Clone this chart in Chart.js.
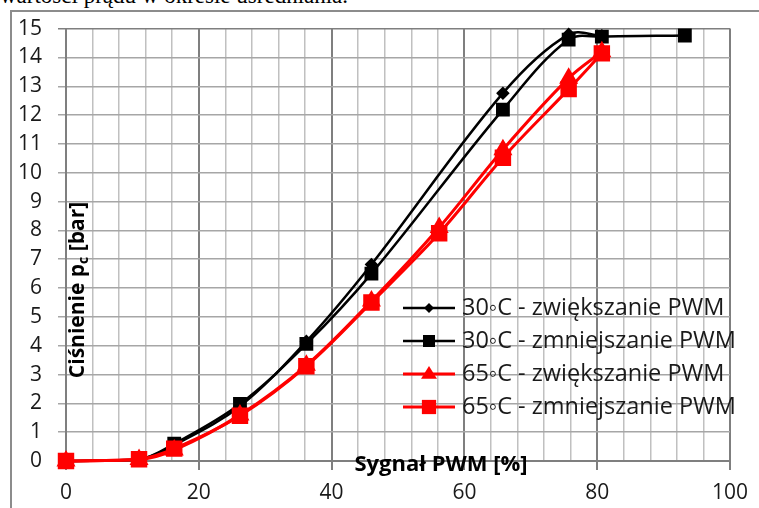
<!DOCTYPE html>
<html>
<head>
<meta charset="utf-8">
<script src="https://cdn.jsdelivr.net/npm/chart.js@4.4.0/dist/chart.umd.min.js"></script>
<style>
  html, body { margin: 0; padding: 0; background: #fff; }
  #wrap { position: relative; width: 759px; height: 508px; overflow: hidden; }
  #caption { position: absolute; left: 0; top: -17px; font: 23px "Liberation Serif", serif; color: #000; white-space: nowrap; }
  #pwmChart { position: absolute; left: 0; top: 0; }
</style>
</head>
<body>
<div id="wrap">
  <div id="caption">wartości prądu w okresie uśredniania.</div>
  <canvas id="pwmChart" width="759" height="508"></canvas>
</div>
<script>
// PWM signal [%] and pressure [bar]
const pwm30 = [0, 11, 16.3, 26.2, 36.2, 46, 65.8, 75.7, 80.7];
const up30 = [0, 0.05, 0.55, 1.9, 4.15, 6.82, 12.76, 14.8, 14.75];
const pwm30down = [0, 11, 16.3, 26.2, 36.2, 46, 65.8, 75.7, 80.7, 93.2];
const down30 = [0, 0.05, 0.6, 1.98, 4.06, 6.5, 12.19, 14.62, 14.72, 14.76];
const pwm65 = [0, 11, 16.3, 26.2, 36.2, 46, 56.2, 65.8, 75.7, 80.7];
const up65 = [0, 0.05, 0.38, 1.6, 3.32, 5.55, 8.1, 10.8, 13.28, 14.2];
const down65 = [0, 0.06, 0.43, 1.57, 3.29, 5.5, 7.9, 10.52, 12.9, 14.14];

const seriesNames = ['30◦C - zwiększanie PWM', '30◦C - zmniejszanie PWM', '65◦C - zwiększanie PWM', '65◦C - zmniejszanie PWM'];
const xTicks = [0, 20, 40, 60, 80, 100];
const xTitle = 'Sygnał PWM [%]';

const pts = (xs, ys) => xs.map((x, i) => ({ x: x, y: ys[i] }));

const tickFont = { family: '"Open Sans"', size: 21 };

const overlay = {
    id: 'overlay',
    beforeDraw(chart) {
        const ctx = chart.ctx;
        ctx.save();
        ctx.strokeStyle = '#8c8c8c';
        ctx.lineWidth = 2;
        ctx.beginPath();
        ctx.moveTo(11, 508);
        ctx.lineTo(11, 11);
        ctx.lineTo(759, 11);
        ctx.stroke();
        ctx.restore();
    },
    afterDraw(chart) {
        const ctx = chart.ctx;
        ctx.save();
        ctx.fillStyle = '#000';
        ctx.textBaseline = 'middle';
        // x title
        ctx.font = 'bold 22px "Open Sans"';
        ctx.textAlign = 'center';
        ctx.fillText(xTitle, 441, 465);
        // y title with subscript
        ctx.save();
        ctx.translate(78, 290);
        ctx.rotate(-Math.PI / 2);
        const a = 'Ciśnienie p', b = 'c', c = ' [bar]';
        ctx.font = 'bold 21px "Open Sans"';
        const wa = ctx.measureText(a).width, wc = ctx.measureText(c).width;
        ctx.font = 'bold 14px "Open Sans"';
        const wb = ctx.measureText(b).width;
        let x0 = -(wa + wb + wc) / 2;
        ctx.textAlign = 'left';
        ctx.font = 'bold 21px "Open Sans"';
        ctx.fillText(a, x0, 0);
        ctx.font = 'bold 14px "Open Sans"';
        ctx.fillText(b, x0 + wa, 6);
        ctx.font = 'bold 21px "Open Sans"';
        ctx.fillText(c, x0 + wa + wb, 0);
        ctx.restore();
        // legend
        const rows = [308, 341, 374, 407];
        chart.data.datasets.forEach((ds, i) => {
            const y = rows[i];
            ctx.strokeStyle = ds.borderColor;
            ctx.lineWidth = ds.borderWidth;
            ctx.beginPath();
            ctx.moveTo(403, y);
            ctx.lineTo(455, y);
            ctx.stroke();
            ctx.fillStyle = ds.backgroundColor;
            const r = ds.pointRadius, cx = 429;
            ctx.beginPath();
            if (ds.pointStyle === 'rectRot') {
                ctx.moveTo(cx, y - r); ctx.lineTo(cx + r, y); ctx.lineTo(cx, y + r); ctx.lineTo(cx - r, y);
            } else if (ds.pointStyle === 'triangle') {
                ctx.moveTo(cx, y - r); ctx.lineTo(cx + r, y + r * 0.6); ctx.lineTo(cx - r, y + r * 0.6);
            } else {
                ctx.rect(cx - r * 0.75, y - r * 0.75, r * 1.5, r * 1.5);
            }
            ctx.closePath();
            ctx.fill();
            ctx.fillStyle = '#1a1a1a';
            ctx.font = '23.5px "Open Sans"';
            ctx.textAlign = 'left';
            ctx.fillText(ds.label, 462, y);
        });
        ctx.restore();
    }
};

const ctx = document.getElementById('pwmChart').getContext('2d');
new Chart(ctx, {
    type: 'line',
    data: {
        datasets: [{
            label: seriesNames[0],
            data: pts(pwm30, up30),
            borderColor: '#000000',
            backgroundColor: '#000000',
            borderWidth: 2.5,
            pointStyle: 'rectRot',
            pointRadius: 5,
            tension: 0.35,
            clip: false,
            order: 4
        }, {
            label: seriesNames[1],
            data: pts(pwm30down, down30),
            borderColor: '#000000',
            backgroundColor: '#000000',
            borderWidth: 2.5,
            pointStyle: 'rect',
            pointRadius: 8,
            tension: 0.35,
            clip: false,
            order: 3
        }, {
            label: seriesNames[2],
            data: pts(pwm65, up65),
            borderColor: '#ff0000',
            backgroundColor: '#ff0000',
            borderWidth: 3,
            pointStyle: 'triangle',
            pointRadius: 8,
            tension: 0.35,
            clip: false,
            order: 2
        }, {
            label: seriesNames[3],
            data: pts(pwm65, down65),
            borderColor: '#ff0000',
            backgroundColor: '#ff0000',
            borderWidth: 3,
            pointStyle: 'rect',
            pointRadius: 9.5,
            tension: 0.35,
            clip: false,
            order: 1
        }]
    },
    options: {
        responsive: false,
        animation: false,
        layout: { padding: { top: 25, right: 29, left: 0, bottom: 0 } },
        plugins: {
            legend: { display: false },
            tooltip: { enabled: false }
        },
        scales: {
            x: {
                type: 'linear',
                min: 0,
                max: 100,
                afterFit: (s) => { s.height = 47; },
                ticks: {
                    stepSize: 4,
                    autoSkip: false,
                    maxRotation: 0,
                    padding: 10,
                    color: '#1a1a1a',
                    font: tickFont,
                    callback: (v) => xTicks.includes(v) ? v : ''
                },
                grid: {
                    color: (c) => xTicks.includes(c.tick && c.tick.value) ? '#7f7f7f' : '#c0c0c0',
                    lineWidth: (c) => xTicks.includes(c.tick && c.tick.value) ? 2 : 1.5,
                    tickColor: (c) => xTicks.includes(c.tick && c.tick.value) ? '#7f7f7f' : 'rgba(0,0,0,0)',
                    tickLength: 9
                },
                border: { color: '#7f7f7f', width: 2 }
            },
            y: {
                min: 0,
                max: 15,
                afterFit: (s) => { s.width = 66; },
                ticks: {
                    stepSize: 1,
                    padding: 16,
                    color: '#1a1a1a',
                    font: tickFont
                },
                grid: {
                    color: (c) => c.tick && c.tick.value === 15 ? '#7f7f7f' : '#a6a6a6',
                    lineWidth: 1.5,
                    tickLength: 8
                },
                border: { color: '#7f7f7f', width: 2 }
            }
        }
    },
    plugins: [overlay]
});
</script>
</body>
</html>
